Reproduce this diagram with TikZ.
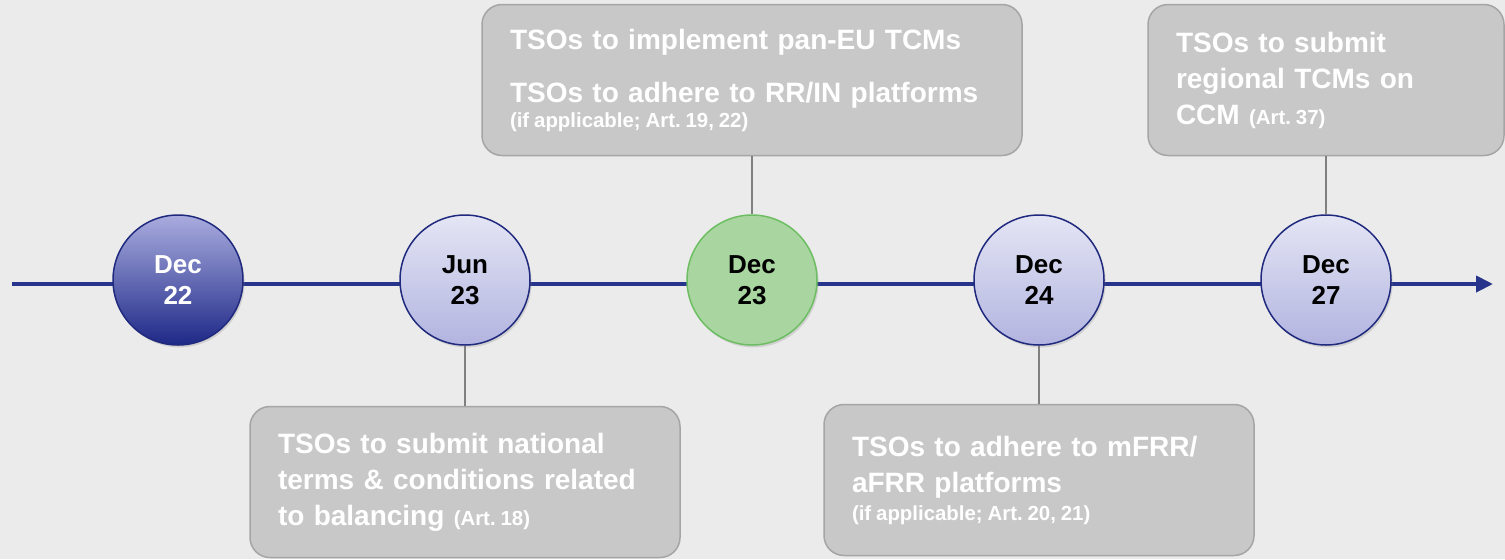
\documentclass[tikz,border=0pt]{standalone}
\usepackage{fontspec}
\setmainfont{Liberation Sans}
\usetikzlibrary{arrows.meta,shadows}

\definecolor{bgGray}{HTML}{EBEBEB}
\definecolor{lineNavy}{HTML}{27348B}
\definecolor{ringNavy}{HTML}{1F2A7E}
\definecolor{darkTop}{HTML}{AAACDF}
\definecolor{darkBot}{HTML}{1E2987}
\definecolor{paleTop}{HTML}{E4E5F4}
\definecolor{paleBot}{HTML}{B2B4E0}
\definecolor{doneFill}{HTML}{A9D6A0}
\definecolor{doneRing}{HTML}{6DBE62}
\definecolor{noteFill}{HTML}{C8C8C8}
\definecolor{noteRing}{HTML}{A5A5A5}
\definecolor{stemGray}{HTML}{808080}

\frenchspacing
\newcommand\art[1]{{\fontsize{10.2}{11}\selectfont\spaceskip=0.24em\relax #1}}

\tikzset{
  timeline/.style={draw=lineNavy, line width=2pt, -{Triangle[length=8.5pt,width=8pt]}},
  date/.style={circle, minimum size=65pt, inner sep=0pt, line width=0.75pt,
    draw=ringNavy, align=center, font=\fontsize{13}{15.5}\selectfont\bfseries,
    drop shadow={shadow xshift=0.8pt, shadow yshift=-1.2pt, opacity=0.25}},
  past/.style={date, top color=darkTop, bottom color=darkBot, text=white},
  future/.style={date, top color=paleTop, bottom color=paleBot},
  now/.style={date, fill=doneFill, draw=doneRing},
  note/.style={rectangle, rounded corners=10pt, fill=noteFill, draw=noteRing,
    line width=0.75pt, text=white, align=left, inner xsep=14pt,
    minimum height=75.5pt, font=\fontsize{14}{18}\selectfont\bfseries},
  stem/.style={draw=stemGray, line width=0.6pt}
}

\begin{document}
\begin{tikzpicture}[x=0.5pt,y=-0.5pt,node distance=143.5pt]
  \fill[bgGray] (0,0) rectangle (1505,559);
  \useasboundingbox (0,0) rectangle (1505,559);

  \coordinate (tstart) at (12,284);
  \coordinate (tend)   at (1493,284);
  \draw[timeline] (tstart) -- (tend);

  \node[past]   (dec22) at (178,280) {Dec\\22};
  \node[future] (jun23) [right of=dec22] {Jun\\23};
  \node[now]    (dec23) [right of=jun23] {Dec\\23};
  \node[future] (dec24) [right of=dec23] {Dec\\24};
  \node[future] (dec27) [right of=dec24] {Dec\\27};

  \node[note, text width=242pt, node distance=100pt, above of=dec23] (panEU)
    {TSOs to implement pan-EU TCMs\\[8.5pt]
     TSOs to adhere to RR/IN platforms\\[-5.5pt]
     \art{(if applicable; Art. 19, 22)}};
  \node[note, text width=187pt, node distance=101pt, below of=jun23] (national)
    {TSOs to submit national\\
     terms \& conditions related\\
     to balancing \art{(Art. 18)}};
  \node[note, text width=187pt, node distance=100pt, below of=dec24] (mfrr)
    {TSOs to adhere to mFRR/\\
     aFRR platforms\\[-4pt]
     \art{(if applicable; Art. 20, 21)}};
  \node[note, text width=150pt, node distance=100pt, above of=dec27] (regional)
    {TSOs to submit\\
     regional TCMs on\\
     CCM \art{(Art. 37)}};

  \path[stem]
  (dec23) edge (panEU)
  (jun23) edge (national)
  (dec24) edge (mfrr)
  (dec27) edge (regional)
  ;
\end{tikzpicture}
\end{document}
